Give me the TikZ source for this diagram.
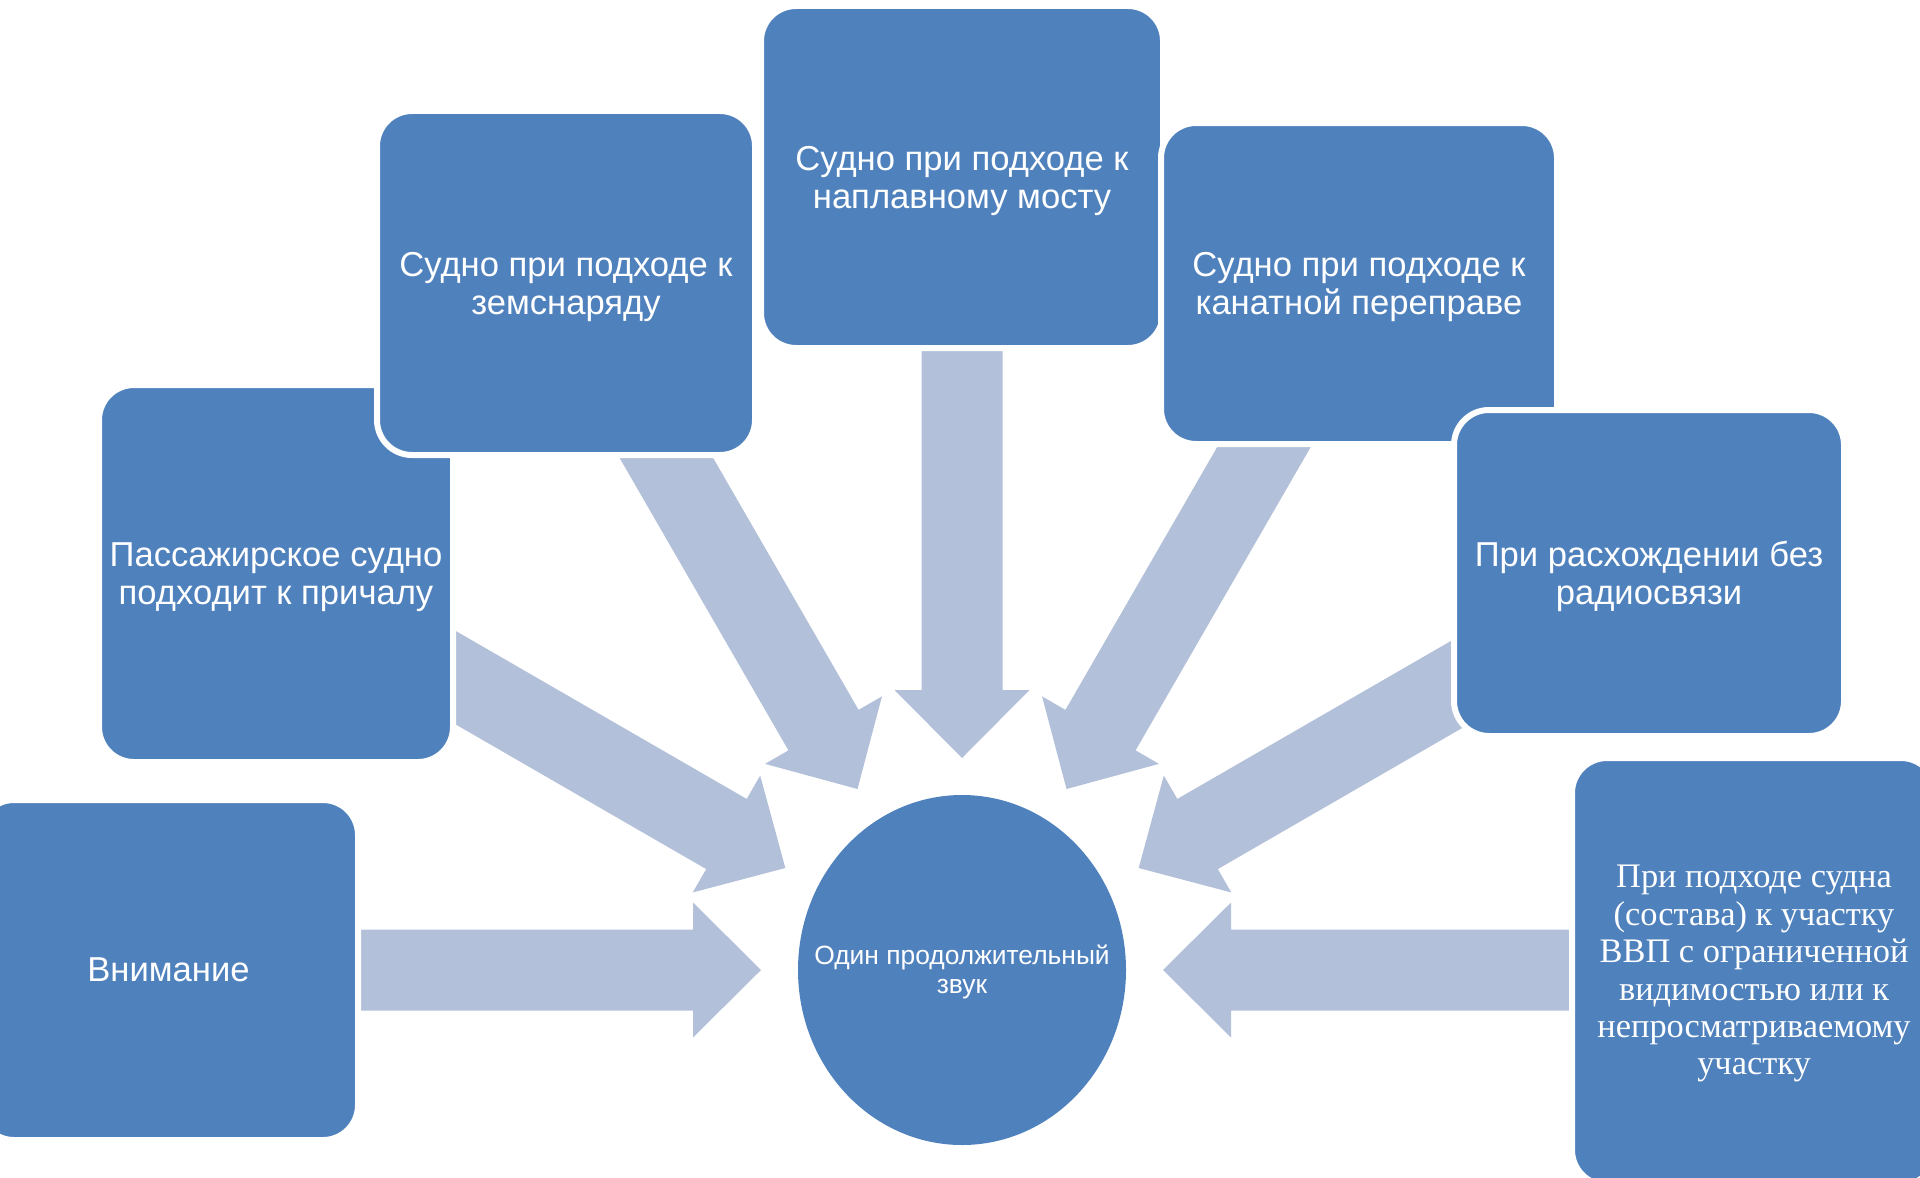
\documentclass[tikz,border=0pt]{standalone}
\usepackage{fontspec}
\setmainfont{Liberation Sans}
\newfontfamily\serifru{Liberation Serif}
\usetikzlibrary{shapes.geometric}
\definecolor{boxblue}{HTML}{4F81BD}
\definecolor{arrowblue}{HTML}{B2C0D9}
\newcommand\fatarrow[2]{%
  \fill[bigarrow, shift={(hub.center)}, rotate=#1]
    (#2,0) -- ++(68,67.5) -- ++(0,-27) -- ++(352,0) -- ++(0,-81)
    -- ++(-352,0) -- ++(0,-27) -- cycle;}
\begin{document}
\begin{tikzpicture}[x=0.5pt,y=-0.5pt,
  box/.style={draw=white, line width=3pt, fill=boxblue, rounded corners=17.5pt,
    inner sep=0pt, outer sep=0pt},
  boxtext/.style={text=white, align=center, inner sep=0pt,
    font=\fontsize{17.3pt}{19pt}\selectfont},
  hubstyle/.style={ellipse, fill=boxblue, inner sep=0pt, outer sep=0pt,
    minimum width=164pt, minimum height=175pt},
  hubtext/.style={text=white, align=center, inner sep=0pt,
    font=\fontsize{13.2pt}{14.7pt}\selectfont},
  bigarrow/.style={fill=arrowblue}]
\useasboundingbox (0,0) rectangle (1920,1177);
\clip (0,0) rectangle (1920,1177);

% central ellipse
\node[hubstyle] (hub) at (962,970) {};
\node[hubtext] (hublabel) at ([yshift=-1pt]hub.center) {Один продолжительный\\звук};

% converging block arrows
\fatarrow{0}{201}
\fatarrow{30}{204}
\fatarrow{60}{209}
\fatarrow{90}{212}
\fatarrow{120}{209}
\fatarrow{150}{204}
\fatarrow{180}{201}

% boxes
\node[box, minimum width=189.5pt, minimum height=170pt] (b1) at (168.5,970) {};
\node[boxtext] (t1) at ([yshift=0.3pt]b1.center) {Внимание};
\node[box, minimum width=177pt, minimum height=188.5pt] (b2) at (276,573.5) {};
\node[boxtext] (t2) at ([yshift=-1.8pt]b2.center) {Пассажирское судно\\подходит к причалу};
\node[box, minimum width=189pt, minimum height=172pt] (b3) at (566,283) {};
\node[boxtext] (t3) at ([yshift=-1.8pt]b3.center) {Судно при подходе к\\земснаряду};
\node[box, minimum width=201pt, minimum height=171pt] (b4) at (962,177) {};
\node[boxtext] (t4) at ([yshift=-1.8pt]b4.center) {Судно при подходе к\\наплавному мосту};
\node[box, minimum width=198pt, minimum height=160.5pt] (b5) at (1359,283.5) {};
\node[boxtext] (t5) at ([yshift=-1.8pt]b5.center) {Судно при подходе к\\канатной переправе};
\node[box, minimum width=195pt, minimum height=163pt] (b6) at (1649,573) {};
\node[boxtext] (t6) at ([yshift=-1.5pt]b6.center) {При расхождении без\\радиосвязи};
\node[box, minimum width=182pt, minimum height=213.5pt] (b7) at (1754,971.5) {};
\node[boxtext, font=\serifru\fontsize{17.2pt}{18.7pt}\selectfont] (t7) at ([yshift=-1.2pt]b7.center)
  {При подходе судна\\(состава) к участку\\ВВП с ограниченной\\видимостью или к\\непросматриваемому\\участку};
\end{tikzpicture}
\end{document}
